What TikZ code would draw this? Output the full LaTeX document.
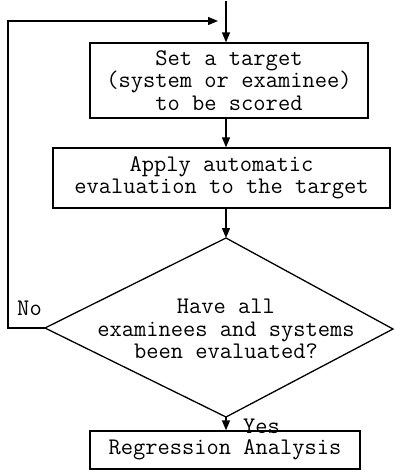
\documentclass[tikz,border=0pt]{standalone}
\usepackage{fontspec}
\usetikzlibrary{arrows.meta}
\begin{document}
\begin{tikzpicture}[x=1pt,y=-1pt,
  every node/.style={font=\ttfamily\fontsize{23.8}{22.5}\selectfont, inner sep=0pt, align=center},
  procbox/.style={draw, line width=1.3pt, rectangle},
  flow/.style={line width=1.3pt, -{Triangle[length=10pt,width=8pt]}},
  plainline/.style={line width=1.3pt}]
\useasboundingbox (0,0) rectangle (395,471);
\coordinate (top) at (226,1);
\node[procbox, minimum width=278pt, minimum height=75pt] (b1) at (229,80.5) {Set a target\\(system or examinee)\\to be scored};
\node[procbox, minimum width=337pt, minimum height=60pt] (b2) at (221.5,178) {Apply automatic\\evaluation to the target};
\coordinate (dT) at (226,238);
\coordinate (dR) at (393,329);
\coordinate (dB) at (226,417);
\coordinate (dL) at (45,328);
\draw[plainline, line join=miter] (dT) -- (dR) -- (dB) -- (dL) -- cycle;
\node (dtext) at (226,329) {Have all\\examinees and systems\\been evaluated?};
\node[procbox, minimum width=270pt, minimum height=38pt] (b3) at (225,450) {Regression Analysis};
\coordinate (c1) at (8,328);
\coordinate (c2) at (8,21);
\coordinate (c3) at (218,21);
\node (no) at (29.5,308) {No};
\node (yes) at (261.5,426) {Yes};
\draw[flow] (top) -- (top |- b1.north);
\draw[flow] (b1.south -| top) -- (b2.north -| top);
\draw[flow] (b2.south -| top) -- (dT);
\draw[flow] (dB) -- (b3.north -| dB);
\draw[flow, line join=miter] (dL) -- (c1) -- (c2) -- (c3);
\end{tikzpicture}
\end{document}
